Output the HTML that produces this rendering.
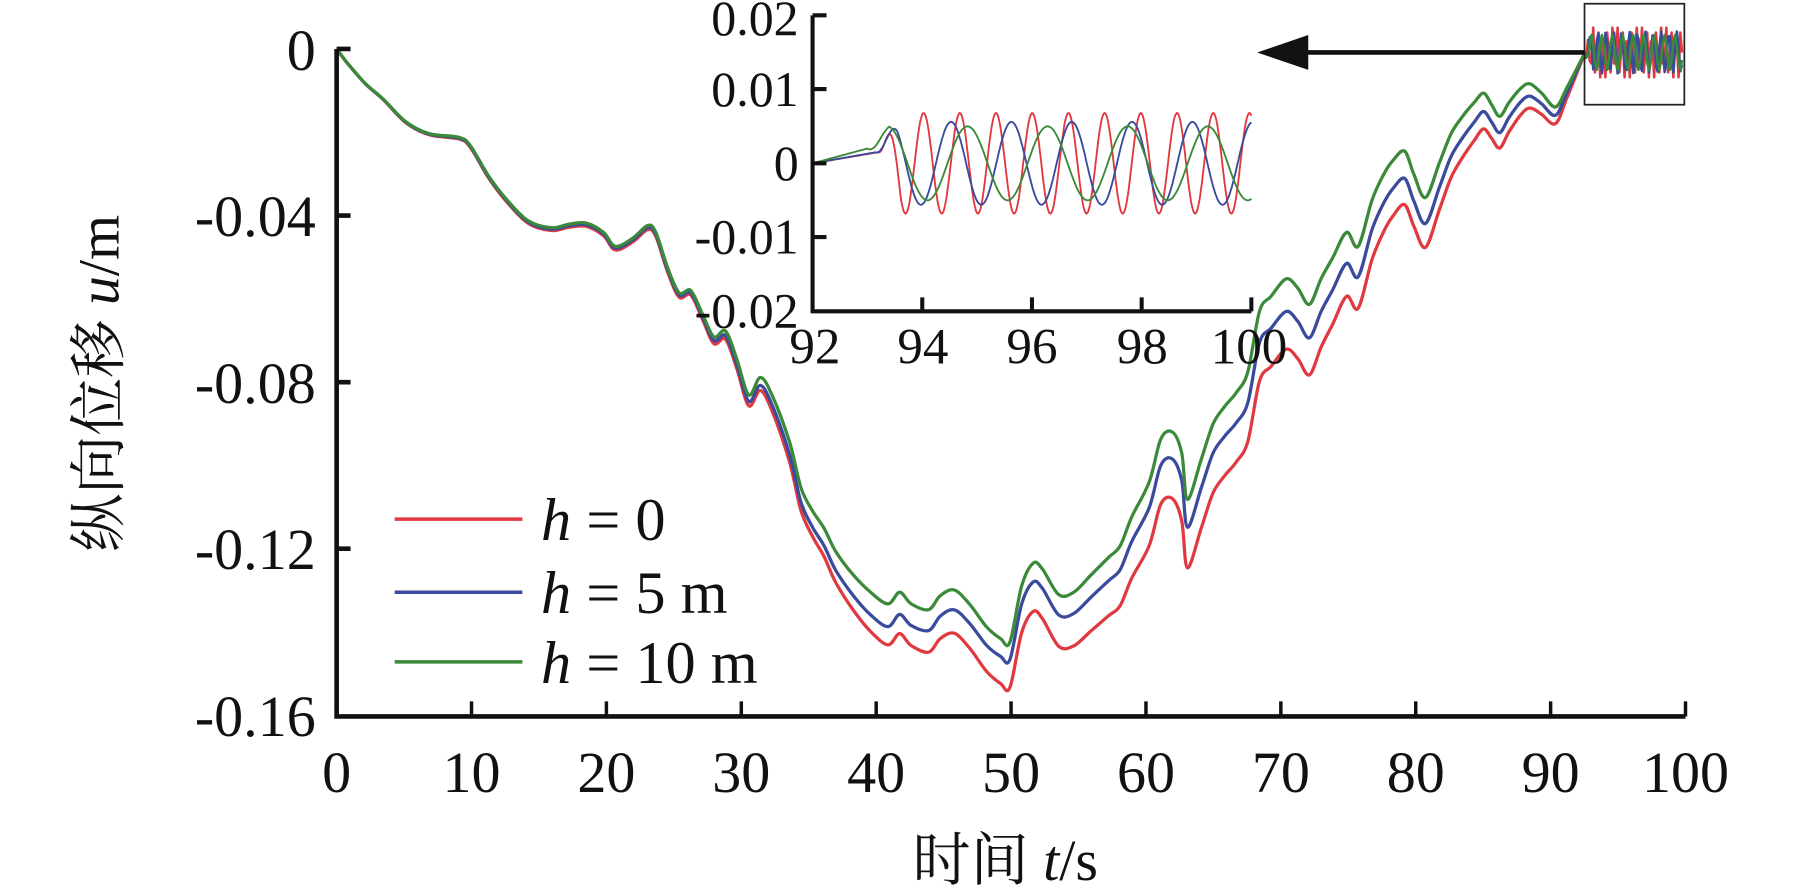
<!DOCTYPE html>
<html><head><meta charset="utf-8"><style>html,body{margin:0;padding:0;background:#fff;}svg{display:block}</style></head>
<body>
<svg id="s" width="1819" height="885" viewBox="0 0 1567 762" xmlns="http://www.w3.org/2000/svg" font-family="Liberation Serif, Noto Serif CJK SC, serif">
<rect width="1567" height="762" fill="#fff"/>
<g id="main" fill="none" stroke-width="2.8" stroke-linejoin="round"></g>
<path d="M290,42 L290,617 L1452,617 M290,42 L302,42 M290,185.5 L302,185.5 M290,329 L302,329 M290,472.5 L302,472.5" stroke="#111" stroke-width="4" fill="none"/>
<g id="xt" stroke="#111" stroke-width="3"></g>
<g font-size="50" fill="#111" text-anchor="end">
<text x="272" y="60">0</text><text x="272" y="203">-0.04</text><text x="272" y="347">-0.08</text><text x="272" y="490">-0.12</text><text x="272" y="634">-0.16</text>
</g>
<g id="xl" font-size="50" fill="#111" text-anchor="middle"></g>
<text x="866" y="758" font-size="50" text-anchor="middle" fill="#111">时间 <tspan font-style="italic">t</tspan>/s</text>
<text transform="translate(102,330) rotate(-90)" font-size="50" text-anchor="middle" fill="#111">纵向位移 <tspan font-style="italic">u</tspan>/m</text>
<g stroke-width="3">
<line x1="340" y1="447" x2="450" y2="447" stroke="#e0393f"/>
<line x1="340" y1="510" x2="450" y2="510" stroke="#3a4a9c"/>
<line x1="340" y1="570" x2="450" y2="570" stroke="#3a8a3a"/>
</g>
<g font-size="52" fill="#111">
<text x="466" y="465"><tspan font-style="italic">h</tspan> = 0</text>
<text x="466" y="528"><tspan font-style="italic">h</tspan> = 5 m</text>
<text x="466" y="588"><tspan font-style="italic">h</tspan> = 10 m</text>
</g>
<rect x="1365" y="3" width="86" height="87" fill="none" stroke="#222" stroke-width="1.5"/>
<line x1="1365" y1="45" x2="1120" y2="45" stroke="#111" stroke-width="4"/>
<polygon points="1083,45 1127,30 1127,60" fill="#111"/>
<g id="ins" fill="none" stroke-width="1.6"></g>
<path d="M700,13 L700,268 L1078,268 M700,13 L712,13 M700,76.5 L712,76.5 M700,140.5 L712,140.5 M700,204 L712,204 M794.5,268 L794.5,256 M889,268 L889,256 M983.5,268 L983.5,256 M1078,268 L1078,256" stroke="#111" stroke-width="3.5" fill="none"/>
<g font-size="43" fill="#111" text-anchor="end">
<text x="688" y="30">0.02</text><text x="688" y="91">0.01</text><text x="688" y="155">0</text><text x="688" y="218">-0.01</text><text x="688" y="282">-0.02</text>
</g>
<g font-size="44" fill="#111" text-anchor="middle">
<text x="702" y="313">92</text><text x="795" y="313">94</text><text x="889" y="313">96</text><text x="984" y="313">98</text><text x="1076" y="313">100</text>
</g>
</svg>
<script>
var NS="http://www.w3.org/2000/svg";
function el(p,n,a){var e=document.createElementNS(NS,n);for(var k in a)e.setAttribute(k,a[k]);p.appendChild(e);return e;}
var xt=document.getElementById('xt'),xl=document.getElementById('xl');
for(var i=0;i<=10;i++){var x=290+i*116.2;el(xt,'line',{x1:x,y1:617,x2:x,y2:604});var t=el(xl,'text',{x:x,y:682});t.textContent=i*10;}
var G=[[290,42],[300,55],[315,72],[330,85],[350,105],[370,115],[395,118],[405,125],[420,150],[435,170],[455,190],[475,196],[490,193],[505,192],[520,200],[530,212],[545,205],[558,194],[565,200],[575,230],[585,252],[595,250],[605,270],[615,290],[625,285],[635,310],[645,340],[655,325],[665,340],[680,380],[690,420],[700,440],[710,455],[720,475],[735,495],[750,510],[765,520],[775,510],[785,520],[800,525],[810,513],[822,508],[835,520],[850,540],[862,550],[870,553],[880,505],[890,485],[898,490],[912,512],[925,510],[940,495],[955,480],[965,470],[975,445],[990,415],[1000,378],[1010,372],[1018,390],[1023,430],[1035,395],[1045,365],[1055,350],[1065,338],[1075,320],[1085,268],[1095,255],[1108,240],[1118,248],[1128,262],[1138,240],[1148,222],[1160,200],[1170,212],[1182,172],[1192,150],[1200,138],[1210,130],[1218,150],[1228,170],[1240,140],[1250,115],[1260,100],[1270,88],[1278,80],[1285,90],[1292,100],[1300,88],[1310,76],[1318,72],[1328,80],[1340,92],[1350,75],[1365,46]];
function interp(tab,x){for(var i=1;i<tab.length;i++){if(x<=tab[i][0]){var a=tab[i-1],b=tab[i];return a[1]+(b[1]-a[1])*(x-a[0])/(b[0]-a[0]);}}return tab[tab.length-1][1];}
var DB=[[290,0],[600,2],[650,6],[700,14],[755,20],[870,15],[1022,24],[1127,29],[1233,22],[1337,8],[1365,0]];
var DR=[[290,0],[600,4],[650,10],[700,22],[755,35],[870,39],[1022,59],[1127,61],[1233,42],[1337,16],[1365,0]];
function smooth(pts){var d='M'+pts[0][0]+','+pts[0][1];for(var i=1;i<pts.length;i++){var p0=pts[i-2]||pts[i-1],p1=pts[i-1],p2=pts[i],p3=pts[i+1]||p2;var c1x=p1[0]+(p2[0]-p0[0])/6,c1y=p1[1]+(p2[1]-p0[1])/6,c2x=p2[0]-(p3[0]-p1[0])/6,c2y=p2[1]-(p3[1]-p1[1])/6;d+=' C'+c1x.toFixed(1)+','+c1y.toFixed(1)+' '+c2x.toFixed(1)+','+c2y.toFixed(1)+' '+p2[0]+','+p2[1];}return d;}
var m=document.getElementById('main');
function osc(per,amp,ph){var p=[];for(var x=1365;x<=1450;x+=1.5){p.push([x,(45+amp*Math.sin((x-1365)/per*2*Math.PI+ph)*Math.min(1,(x-1365)/6)).toFixed(1)]);}return p;}
var series=[[DR,'#e0393f',4.2,22,0],[DB,'#3a4a9c',6.8,18,0.3],[null,'#3a8a3a',9,15,0.6]];
series.forEach(function(s){var pts=G.map(function(p){return [p[0],+(p[1]+(s[0]?interp(s[0],p[0]):0)).toFixed(1)];});
el(m,'path',{d:smooth(pts),stroke:s[1]});
var o=osc(s[2],s[3],s[4]);el(m,'path',{d:'M'+o.map(function(q){return q.join(',');}).join(' L'),stroke:s[1],'stroke-width':2.2});});
var ins=document.getElementById('ins');
function X(t){return 700+(t-92)*47.25;}function Y(v){return 140.5-v*6375;}
function insPath(per,amp,t0,col,pre){var d='';for(var t=92;t<=100.001;t+=0.02){var v;if(t<t0){v=pre*(t-92)/(t0-92);}else{var e=Math.min(1,(t-t0)/0.4);v=pre*(1-e)+amp*e*Math.sin((t-t0)/per*2*Math.PI);} d+=(d?' L':'M')+X(t).toFixed(1)+','+Y(v).toFixed(1);}el(ins,'path',{d:d,stroke:col});}
insPath(0.66,0.0068,93.2,'#e0393f',0.0015);
insPath(1.1,0.0056,93.15,'#3a4a9c',0.0015);
insPath(1.46,0.005,93.0,'#3a8a3a',0.002);
</script>
</body></html>
